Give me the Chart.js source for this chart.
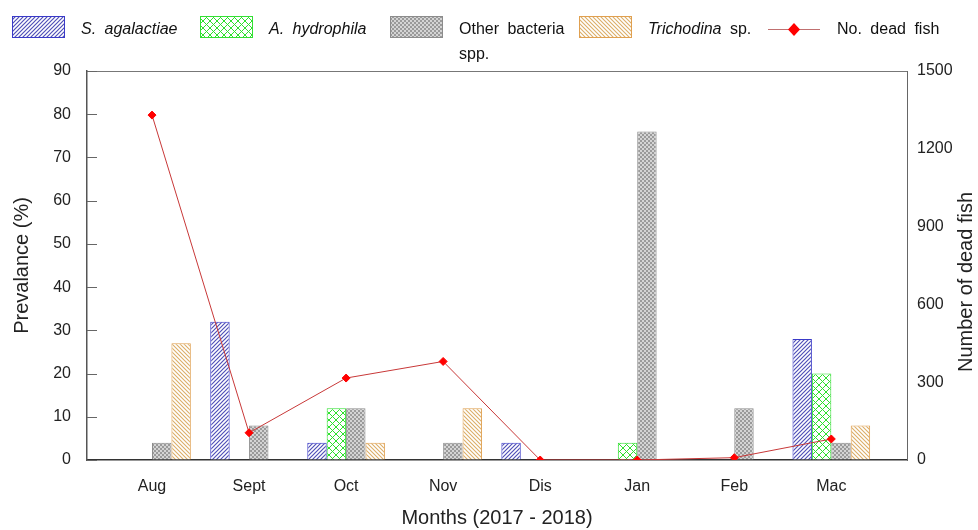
<!DOCTYPE html>
<html>
<head>
<meta charset="utf-8">
<script src="https://cdn.jsdelivr.net/npm/chart.js@4"></script>
<style>
  html, body { margin: 0; padding: 0; background: #fff; }
  #wrap { width: 978px; height: 530px; }
</style>
</head>
<body>
<div id="wrap"><canvas id="chart" width="978" height="530"></canvas></div>
<script>
// data
const months = ['Aug', 'Sept', 'Oct', 'Nov', 'Dis', 'Jan', 'Feb', 'Mac'];
const sAgalactiae = [0, 32, 4, 0, 4, 0, 0, 28];
const aHydrophila = [0, 0, 12, 0, 0, 4, 0, 20];
const otherBacteria = [4, 8, 12, 4, 0, 76, 12, 4];
const trichodina = [27, 0, 4, 12, 0, 0, 0, 8];
const deadFish = [1330, 105, 316, 380, 0, 0, 9, 81];
const prevTicks = [0, 10, 20, 30, 40, 50, 60, 70, 80, 90];
const fishTicks = [0, 300, 600, 900, 1200, 1500];

// hatch patterns
function makePattern(size, draw) {
    const c = document.createElement('canvas');
    c.width = size; c.height = size;
    const g = c.getContext('2d');
    g.fillStyle = '#fff';
    g.fillRect(0, 0, size, size);
    draw(g, size);
    return document.getElementById('chart').getContext('2d').createPattern(c, 'repeat');
}
const blueHatch = makePattern(4, (g, s) => {
    g.strokeStyle = '#5050b8'; g.lineWidth = 1.2;
    g.beginPath();
    g.moveTo(0, s); g.lineTo(s, 0);
    g.moveTo(-1, 1); g.lineTo(1, -1);
    g.moveTo(s - 1, s + 1); g.lineTo(s + 1, s - 1);
    g.stroke();
});
const greenHatch = makePattern(7, (g, s) => {
    g.strokeStyle = '#2ee02e'; g.lineWidth = 1;
    g.beginPath();
    g.moveTo(0, 0); g.lineTo(s, s);
    g.moveTo(0, s); g.lineTo(s, 0);
    g.stroke();
});
const grayHatch = makePattern(4, (g) => {
    g.fillStyle = '#d4d4d4'; g.fillRect(0, 0, 4, 4);
    g.fillStyle = '#9a9a9a';
    g.fillRect(0, 0, 2, 2); g.fillRect(2, 2, 2, 2);
});
const orangeHatch = makePattern(4, (g, s) => {
    g.strokeStyle = '#dcae68'; g.lineWidth = 1.1;
    g.beginPath();
    g.moveTo(0, 0); g.lineTo(s, s);
    g.moveTo(-1, s - 1); g.lineTo(1, s + 1);
    g.moveTo(s - 1, -1); g.lineTo(s + 1, 1);
    g.stroke();
});

function pts(arr) {
    return arr.map((v, i) => ({ x: i, y: v }));
}
function noZeroBorder(ctx) {
    return ctx.raw && ctx.raw.y === 0 ? 0 : 1;
}

const legendItems = [
    { x: 12, fill: blueHatch, border: '#3a3ac8', parts: [['S. agalactiae', true]] },
    { x: 200, fill: greenHatch, border: '#33e033', parts: [['A. hydrophila', true]] },
    { x: 390, fill: grayHatch, border: '#8c8c8c', parts: [['Other bacteria', false]], second: 'spp.' },
    { x: 579, fill: orangeHatch, border: '#e0a050', parts: [['Trichodina', true], [' sp.', false]] },
    { x: 768, line: true, parts: [['No. dead fish', false]] }
];

const FONT = '"Liberation Sans", Arial, sans-serif';

const decorPlugin = {
    id: 'decor',
    afterDraw(chart) {
        const ctx = chart.ctx;
        const area = chart.chartArea;
        const y = chart.scales.y;
        ctx.save();
        // top border
        ctx.strokeStyle = '#777';
        ctx.lineWidth = 1;
        ctx.beginPath();
        ctx.moveTo(area.left, area.top + 0.5);
        ctx.lineTo(area.right, area.top + 0.5);
        ctx.stroke();
        // inward ticks on the left axis
        ctx.strokeStyle = '#666';
        prevTicks.forEach(v => {
            const py = Math.round(y.getPixelForValue(v)) + 0.5;
            ctx.beginPath(); ctx.moveTo(area.left, py); ctx.lineTo(area.left + 10, py); ctx.stroke();
        });
        // axis titles (both read bottom to top)
        ctx.fillStyle = '#222';
        ctx.font = '20px ' + FONT;
        ctx.textAlign = 'center';
        ctx.textBaseline = 'middle';
        ctx.save();
        ctx.translate(22, (area.top + area.bottom) / 2);
        ctx.rotate(-Math.PI / 2);
        ctx.fillText('Prevalance (%)', 0, 0);
        ctx.restore();
        ctx.save();
        ctx.translate(966, 282);
        ctx.rotate(-Math.PI / 2);
        ctx.fillText('Number of dead fish', 0, 0);
        ctx.restore();
        // legend
        ctx.textAlign = 'left';
        legendItems.forEach(item => {
            if (item.line) {
                ctx.strokeStyle = '#c07070';
                ctx.lineWidth = 1;
                ctx.beginPath(); ctx.moveTo(item.x, 29.5); ctx.lineTo(item.x + 52, 29.5); ctx.stroke();
                ctx.fillStyle = '#ff0000';
                ctx.beginPath();
                ctx.moveTo(item.x + 26, 23); ctx.lineTo(item.x + 32, 29.5);
                ctx.lineTo(item.x + 26, 36); ctx.lineTo(item.x + 20, 29.5);
                ctx.closePath(); ctx.fill();
            } else {
                ctx.fillStyle = item.fill;
                ctx.fillRect(item.x, 16, 52, 21);
                ctx.strokeStyle = item.border;
                ctx.lineWidth = 1;
                ctx.strokeRect(item.x + 0.5, 16.5, 52, 21);
            }
            let tx = item.x + 69;
            ctx.fillStyle = '#111';
            ctx.wordSpacing = '4px';
            item.parts.forEach(p => {
                ctx.font = (p[1] ? 'italic ' : '') + '16px ' + FONT;
                ctx.fillText(p[0], tx, 30);
                tx += ctx.measureText(p[0]).width;
            });
            if (item.second) {
                ctx.font = '16px ' + FONT;
                ctx.fillText(item.second, item.x + 69, 55);
            }
        });
        ctx.restore();
    }
};

const tickFont = { family: FONT, size: 16 };
const titleFont = { family: FONT, size: 20 };

new Chart(document.getElementById('chart'), {
    type: 'bar',
    data: {
        datasets: [
            { label: 'S. agalactiae', data: pts(sAgalactiae), backgroundColor: blueHatch, borderColor: '#3a3ac8', borderWidth: noZeroBorder, order: 2 },
            { label: 'A. hydrophila', data: pts(aHydrophila), backgroundColor: greenHatch, borderColor: '#33e033', borderWidth: noZeroBorder, order: 2 },
            { label: 'Other bacteria spp.', data: pts(otherBacteria), backgroundColor: grayHatch, borderColor: '#8c8c8c', borderWidth: noZeroBorder, order: 2 },
            { label: 'Trichodina sp.', data: pts(trichodina), backgroundColor: orangeHatch, borderColor: '#e0a050', borderWidth: noZeroBorder, order: 2 },
            {
                type: 'line', label: 'No. dead fish', data: pts(deadFish), yAxisID: 'y1',
                borderColor: '#c83838', borderWidth: 1, pointStyle: 'rectRot',
                pointRadius: 4, pointBackgroundColor: '#ff0000', pointBorderColor: '#ff0000',
                tension: 0, order: 1
            }
        ]
    },
    options: {
        responsive: false,
        animation: false,
        layout: { padding: { top: 71, left: 0, right: 0, bottom: 0 } },
        datasets: { bar: { categoryPercentage: 0.8, barPercentage: 1 } },
        plugins: { legend: { display: false }, tooltip: { enabled: false } },
        scales: {
            x: {
                type: 'linear', min: -0.67, max: 7.78, offset: false,
                afterBuildTicks: s => { s.ticks = months.map((m, i) => ({ value: i })); },
                afterFit: s => { s.height = 70; },
                grid: { display: false, offset: false },
                border: { color: '#333', width: 1.5 },
                ticks: { color: '#222', font: tickFont, padding: 9, callback: v => months[v] || '' },
                title: { display: true, text: 'Months (2017 - 2018)', color: '#222', font: titleFont, padding: { top: 0, bottom: 0 } }
            },
            y: {
                position: 'left', min: 0, max: 90,
                afterBuildTicks: s => { s.ticks = prevTicks.map(v => ({ value: v })); },
                afterFit: s => { s.width = 87; },
                grid: { drawOnChartArea: false, drawTicks: false },
                border: { color: '#555', width: 1.5 },
                ticks: { color: '#222', font: tickFont, padding: 16 }
            },
            y1: {
                position: 'right', min: 0, max: 1500,
                afterBuildTicks: s => { s.ticks = fishTicks.map(v => ({ value: v })); },
                afterFit: s => { s.width = 71; },
                grid: { drawOnChartArea: false, drawTicks: false },
                border: { color: '#666', width: 1 },
                ticks: { color: '#222', font: tickFont, padding: 10, callback: v => String(v) }
            }
        }
    },
    plugins: [decorPlugin]
});
</script>
</body>
</html>
